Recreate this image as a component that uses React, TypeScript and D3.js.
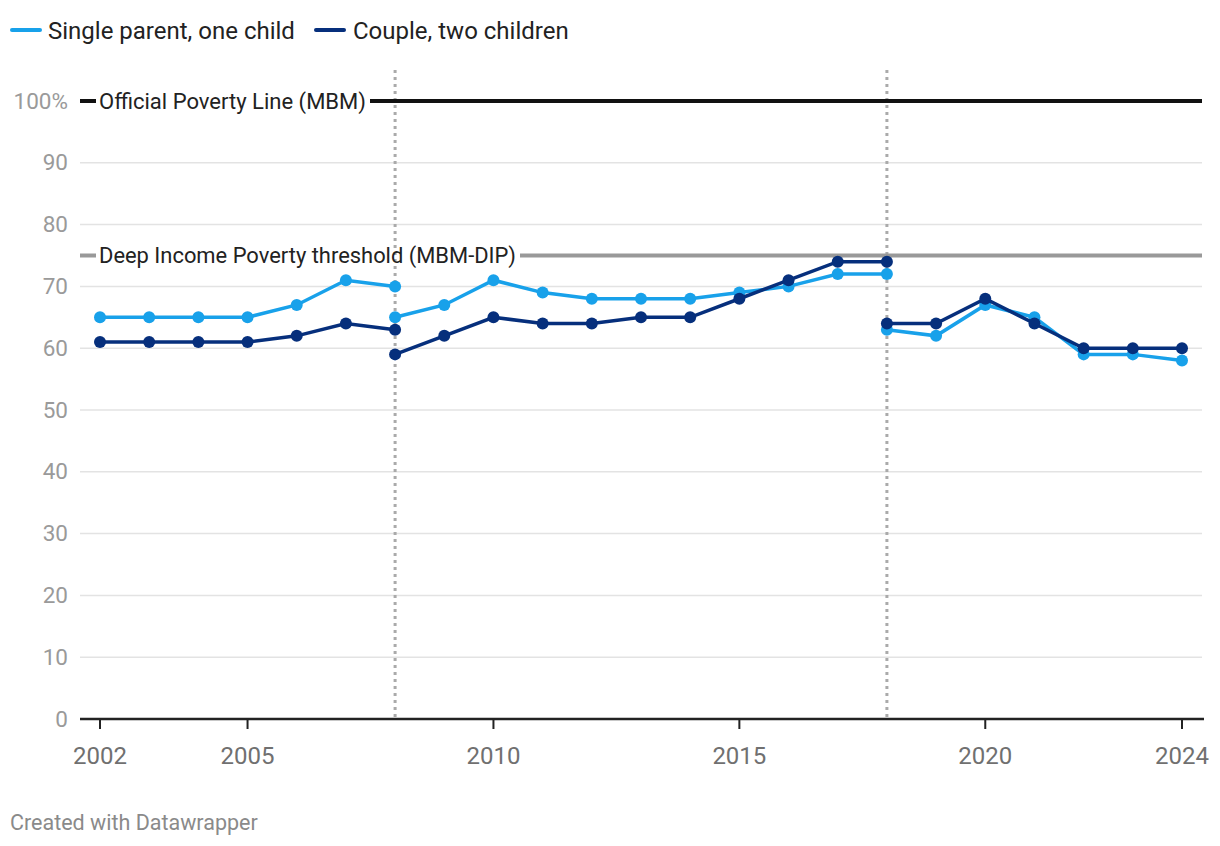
import * as d3 from "d3";
import React from "react";

// years for each segment (series break at 2008 and 2018)
const seg1Years = [2002, 2003, 2004, 2005, 2006, 2007, 2008];
const seg2Years = [2008, 2009, 2010, 2011, 2012, 2013, 2014, 2015, 2016, 2017, 2018];
const seg3Years = [2018, 2019, 2020, 2021, 2022, 2023, 2024];

const singleSeg1 = [65, 65, 65, 65, 67, 71, 70];
const singleSeg2 = [65, 67, 71, 69, 68, 68, 68, 69, 70, 72, 72];
const singleSeg3 = [63, 62, 67, 65, 59, 59, 58];

const coupleSeg1 = [61, 61, 61, 61, 62, 64, 63];
const coupleSeg2 = [59, 62, 65, 64, 64, 65, 65, 68, 71, 74, 74];
const coupleSeg3 = [64, 64, 68, 64, 60, 60, 60];

const xTicks = [2002, 2005, 2010, 2015, 2020, 2024];
const yTicks = [0, 10, 20, 30, 40, 50, 60, 70, 80, 90, 100];
const breakYears = [2008, 2018];

const refLines = [
	{ value: 100, label: "Official Poverty Line (MBM)", color: "#111", labelEnd: 368 },
	{ value: 75, label: "Deep Income Poverty threshold (MBM-DIP)", color: "#999", labelEnd: 518 },
];

const LIGHT = "#18a1ea";
const DARK = "#062f7c";
const FONT = "Roboto, sans-serif";

const W = 1220;
const H = 846;

const App = (): JSX.Element => {
	const x = d3.scaleLinear().domain([2002, 2024]).range([100, 1182]);
	const y = d3.scaleLinear().domain([0, 100]).range([719, 101]);
	const line = d3
		.line<[number, number]>()
		.x((d) => x(d[0]))
		.y((d) => y(d[1]));

	const series = [
		{ name: "Single parent, one child", color: LIGHT, segs: [singleSeg1, singleSeg2, singleSeg3] },
		{ name: "Couple, two children", color: DARK, segs: [coupleSeg1, coupleSeg2, coupleSeg3] },
	];
	const years = [seg1Years, seg2Years, seg3Years];

	return (
		<svg width={W} height={H} style={{ position: "absolute", left: 0, top: 0 }} fontFamily={FONT}>
			{/* legend */}
			<g>
				<line x1={12} x2={40} y1={30} y2={30} stroke={LIGHT} strokeWidth={4} strokeLinecap="round" />
				<text x={48} y={38.5} fontSize={24} fill="#222">Single parent, one child</text>
				<line x1={316} x2={344} y1={30} y2={30} stroke={DARK} strokeWidth={4} strokeLinecap="round" />
				<text x={353} y={38.5} fontSize={24} fill="#222">Couple, two children</text>
			</g>

			{/* grid */}
			{yTicks.map((t) => (
				<g key={t}>
					{t !== 0 && t !== 100 && (
						<line x1={80} x2={1202} y1={y(t)} y2={y(t)} stroke="#e3e3e3" strokeWidth={1.5} />
					)}
					<text x={68} y={y(t) + 7.5} textAnchor="end" fontSize={22.5} fill="#9a9a9a">
						{t === 100 ? "100%" : t}
					</text>
				</g>
			))}

			{/* vertical break lines */}
			{breakYears.map((b) => (
				<line key={b} x1={x(b)} x2={x(b)} y1={70} y2={719} stroke="#aaa" strokeWidth={3} strokeDasharray="3,4" />
			))}

			{/* reference lines */}
			{refLines.map((r) => (
				<g key={r.value}>
					<line x1={80} x2={96} y1={y(r.value)} y2={y(r.value)} stroke={r.color} strokeWidth={4} />
					<line x1={r.labelEnd + 2} x2={1202} y1={y(r.value)} y2={y(r.value)} stroke={r.color} strokeWidth={4} />
					<text x={99} y={y(r.value) + 7.5} fontSize={22} fill="#222" textLength={r.labelEnd - 101} lengthAdjust="spacingAndGlyphs">{r.label}</text>
				</g>
			))}

			{/* x axis */}
			<line x1={80} x2={1204} y1={719} y2={719} stroke="#222" strokeWidth={2.5} />
			{xTicks.map((t) => (
				<g key={t}>
					<line x1={x(t)} x2={x(t)} y1={719} y2={729} stroke="#222" strokeWidth={2} />
					<text x={x(t)} y={764} textAnchor="middle" fontSize={24} fill="#707070">{t}</text>
				</g>
			))}

			{/* series */}
			{series.map((s) => (
				<g key={s.name}>
					{s.segs.map((vals, i) => {
						const pts = years[i].map((yr, j) => [yr, vals[j]] as [number, number]);
						return (
							<g key={i}>
								<path d={line(pts) ?? ""} fill="none" stroke={s.color} strokeWidth={3.5} />
								{pts.map((p, j) => (
									<circle key={j} cx={x(p[0])} cy={y(p[1])} r={6} fill={s.color} />
								))}
							</g>
						);
					})}
				</g>
			))}

			<text x={10} y={830} fontSize={21.5} fill="#8a8a8a">Created with Datawrapper</text>
		</svg>
	);
};

export default App;
